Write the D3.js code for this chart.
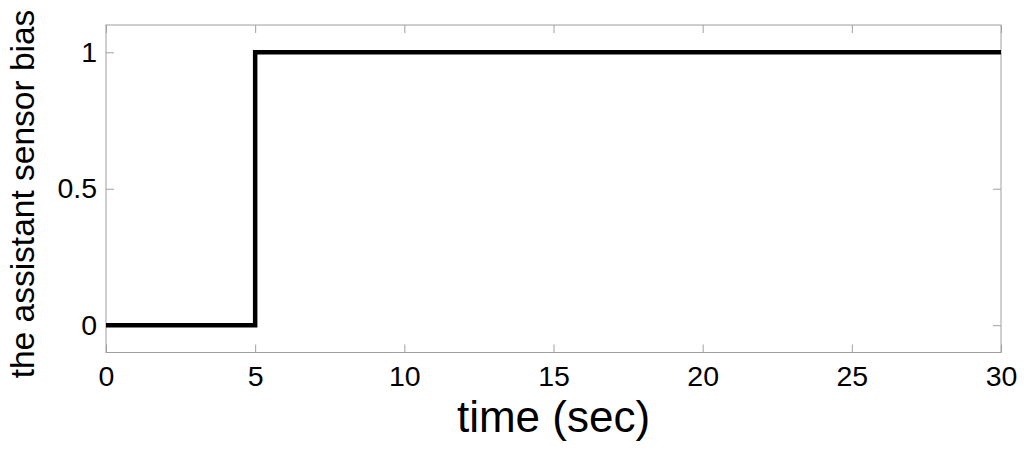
<!DOCTYPE html>
<meta charset="utf-8" />
<script src="https://d3js.org/d3.v7.min.js"></script>
<style>
  body { margin: 0; background: #fff; }
  text { font-family: "Liberation Sans", Arial, sans-serif; }
</style>
<svg id="chart" width="1024" height="455"></svg>
<script>
  // step signal: bias switches on at t = 5 s
  var time = [0, 5, 30];
  var bias = [0, 1, 1];
  var xTicks = [0, 5, 10, 15, 20, 25, 30];
  var yTicks = [0, 0.5, 1];
  var yTickLabels = ["0", "0.5", "1"];

  var svg = d3.select("#chart"),
    margin = { top: 25, right: 23, bottom: 102.5, left: 106 },
    width = +svg.attr("width") - margin.left - margin.right,
    height = +svg.attr("height") - margin.top - margin.bottom;

  var g = svg.append("g").attr("transform", "translate(" + margin.left + "," + margin.top + ")");

  var x = d3.scaleLinear().domain([0, 30]).range([0, width]);
  var y = d3.scaleLinear().domain([-0.1, 1.1]).range([height, 0]);

  var axisColor = "#a0a0a0";
  var tickLen = 8;

  // bottom + left axes with labels, ticks pointing inward
  var xAxis = g.append("g")
    .attr("transform", "translate(0," + height + ")")
    .call(d3.axisBottom(x).tickValues(xTicks).tickSizeInner(-tickLen).tickSizeOuter(0).tickPadding(13));
  var yAxis = g.append("g")
    .call(d3.axisLeft(y).tickValues(yTicks).tickFormat(function(d, i) { return yTickLabels[i]; })
      .tickSizeInner(-tickLen).tickSizeOuter(0).tickPadding(9));
  // mirrored ticks on top and right
  var xTop = g.append("g")
    .call(d3.axisTop(x).tickValues(xTicks).tickSizeInner(-tickLen).tickSizeOuter(0).tickFormat(""));
  var yRight = g.append("g")
    .attr("transform", "translate(" + width + ",0)")
    .call(d3.axisRight(y).tickValues(yTicks).tickSizeInner(-tickLen).tickSizeOuter(0).tickFormat(""));

  [xAxis, yAxis, xTop, yRight].forEach(function(a) {
    a.select(".domain").remove();
    a.selectAll("line").attr("stroke", axisColor);
    a.selectAll("text").attr("fill", "#000").style("font-size", "28.5px");
  });

  // frame
  g.append("rect")
    .attr("x", 0).attr("y", 0)
    .attr("width", width).attr("height", height)
    .attr("fill", "none")
    .attr("stroke", axisColor)
    .attr("stroke-width", 1);

  var data = time.map(function(t, i) { return { t: t, v: bias[i] }; });
  var line = d3.line()
    .x(function(d) { return x(d.t); })
    .y(function(d) { return y(d.v); })
    .curve(d3.curveStepAfter);

  g.append("path")
    .datum(data)
    .attr("d", line)
    .attr("fill", "none")
    .attr("stroke", "#000")
    .attr("stroke-width", 4.5);

  // axis titles
  svg.append("text")
    .attr("x", margin.left + width / 2)
    .attr("y", 432)
    .attr("text-anchor", "middle")
    .style("font-size", "44px")
    .text("time (sec)");

  svg.append("text")
    .attr("transform", "translate(34,194) rotate(-90)")
    .attr("text-anchor", "middle")
    .style("font-size", "33.5px")
    .text("the assistant sensor bias");
</script>
